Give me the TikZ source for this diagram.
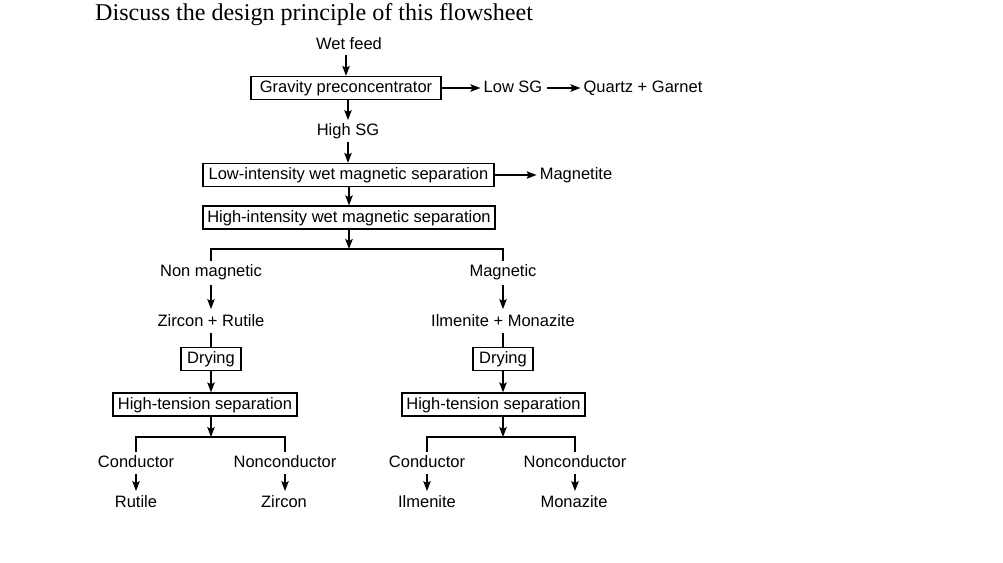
\documentclass[tikz,border=0pt]{standalone}
\usepackage{fontspec}
\setmainfont{Liberation Serif}
\newfontfamily\arial{Liberation Sans}
\usetikzlibrary{arrows.meta}
\begin{document}
\begin{tikzpicture}[x=1pt,y=-1pt,
 lbl/.style={font=\arial\fontsize{16.5}{18}\selectfont, inner sep=0pt, text height=12.5pt, text depth=3pt},
 proc/.style={lbl, draw, line width=1.3pt, minimum height=23pt},
 flow/.style={line width=1.3pt, -{Stealth[length=10pt,width=7.5pt,inset=2pt]}},
 ln/.style={line width=1.3pt}]
\useasboundingbox (0,0) rectangle (1003,562);
\node[anchor=base west, font=\fontsize{24.1}{28}\selectfont, inner sep=0pt] (title) at (95,20) {Discuss the design principle of this flowsheet};

\node[lbl] (wet) at (349,45) {Wet feed};
\node[proc, minimum width=190pt] (grav) at (346,88) {Gravity preconcentrator};
\node[lbl] (lowsg) at (513,88) {Low SG};
\node[lbl] (qg) at (643,88) {Quartz + Garnet};
\node[lbl] (highsg) at (348,131) {High SG};
\node[proc, minimum width=291pt] (liwms) at (348.5,175) {Low-intensity wet magnetic separation};
\node[lbl] (mag) at (576,175) {Magnetite};
\node[proc, minimum width=292pt] (hiwms) at (349,217.5) {High-intensity wet magnetic separation};
\coordinate (split) at (349,249);
\node[lbl] (nonmag) at (211,272) {Non magnetic};
\node[lbl] (magn) at (503,272) {Magnetic};
\node[lbl] (zr) at (211,322) {Zircon + Rutile};
\node[lbl] (im) at (503,322) {Ilmenite + Monazite};
\node[proc, minimum width=60pt] (dryL) at (211,359) {Drying};
\node[proc, minimum width=60pt] (dryR) at (503,359) {Drying};
\node[proc, minimum width=184pt] (htsL) at (205,404.5) {High-tension separation};
\node[proc, minimum width=183pt] (htsR) at (493.5,404.5) {High-tension separation};
\coordinate (splitL) at (211,437);
\coordinate (splitR) at (503,437);
\node[lbl] (condL) at (136,463) {Conductor};
\node[lbl] (nonL) at (285,463) {Nonconductor};
\node[lbl] (rut) at (136,503) {Rutile};
\node[lbl] (zir) at (284,503) {Zircon};
\node[lbl] (condR) at (427,463) {Conductor};
\node[lbl] (nonR) at (575,463) {Nonconductor};
\node[lbl] (ilm) at (427,503) {Ilmenite};
\node[lbl] (mon) at (574,503) {Monazite};

\draw[flow, shorten <=2pt] (wet.south -| grav.north) -- (grav.north);
\draw[flow, shorten >=3pt] (grav.east) -- (lowsg.west);
\draw[flow, shorten <=4pt, shorten >=3pt] (lowsg.east) -- (qg.west);
\draw[flow, shorten >=3pt] (grav.south -| highsg) -- (highsg.north);
\draw[flow, shorten <=3pt] (highsg.south) -- (highsg.south |- liwms.north);
\draw[flow, shorten >=3pt] (liwms.east) -- (mag.west);
\draw[flow] (liwms.south -| hiwms) -- (hiwms.north);
\draw[flow] (hiwms.south) -- (split);
\draw[ln] ([yshift=3pt]nonmag.north) |- (split) -| ([yshift=3pt]magn.north);
\draw[flow, shorten <=5pt, shorten >=5pt] (nonmag.south) -- (zr.north);
\draw[flow, shorten <=5pt, shorten >=5pt] (magn.south) -- (im.north);
\draw[ln, shorten <=3pt] (zr.south) -- (dryL.north);
\draw[ln, shorten <=3pt] (im.south) -- (dryR.north);
\draw[flow] (dryL.south) -- (dryL.south |- htsL.north);
\draw[flow] (dryR.south) -- (dryR.south |- htsR.north);
\draw[flow] (htsL.south -| splitL) -- (splitL);
\draw[flow] (htsR.south -| splitR) -- (splitR);
\draw[ln] ([yshift=3pt]condL.north) |- (splitL) -| ([yshift=3pt]nonL.north);
\draw[ln] ([yshift=3pt]condR.north) |- (splitR) -| ([yshift=3pt]nonR.north);
\draw[flow, shorten <=3pt, shorten >=4pt] (condL.south) -- (rut.north -| condL);
\draw[flow, shorten <=3pt, shorten >=4pt] (nonL.south) -- (zir.north -| nonL);
\draw[flow, shorten <=3pt, shorten >=4pt] (condR.south) -- (ilm.north -| condR);
\draw[flow, shorten <=3pt, shorten >=4pt] (nonR.south) -- (mon.north -| nonR);
\end{tikzpicture}
\end{document}
